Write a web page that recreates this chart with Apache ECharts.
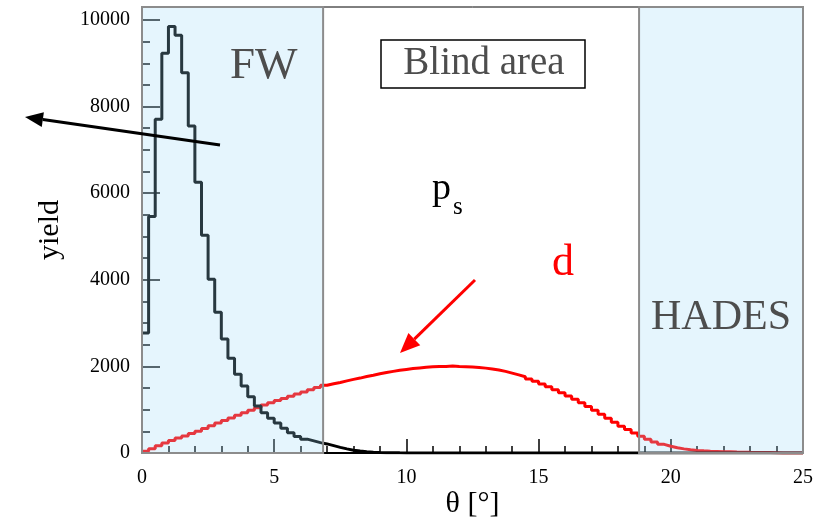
<!DOCTYPE html>
<html>
<head>
<meta charset="utf-8">
<script src="https://cdn.jsdelivr.net/npm/echarts@6/dist/echarts.min.js"></script>
<style>
  html, body { margin: 0; padding: 0; background: #fff; }
  #chart { width: 814px; height: 520px; }
</style>
</head>
<body>
<div id="chart"></div>
<script>
// theta histograms, 0.25 deg bins from 0 to 25
const binWidth = 0.25
const xTicks = [0, 5, 10, 15, 20, 25]
const yTicks = [0, 2000, 4000, 6000, 8000, 10000]

// spectator protons (black)
const psYield = [
  2770, 5460, 7710, 9230, 9850, 9650, 8780, 7550, 6250, 5030,
  4010, 3250, 2630, 2190, 1820, 1550, 1300, 1085, 930, 800,
  690, 570, 470, 380, 320, 280, 240, 210, 170, 130,
  95, 65, 45, 30, 20, 12, 8, 5, 3, 2,
  0, 0, 0, 0, 0, 0, 0, 0, 0, 0,
  0, 0, 0, 0, 0, 0, 0, 0, 0, 0,
  0, 0, 0, 0, 0, 0, 0, 0, 0, 0,
  0, 0, 0, 0, 0, 0, 0, 0, 0, 0,
  0, 0, 0, 0, 0, 0, 0, 0, 0, 0,
  0, 0, 0, 0, 0, 0, 0, 0, 0, 0
]

// deuterons (red)
const dYield = [
  40, 100, 165, 230, 290, 345, 395, 450, 505, 565,
  630, 690, 750, 810, 870, 930, 985, 1045, 1110, 1160,
  1210, 1260, 1310, 1360, 1410, 1460, 1515, 1565, 1600, 1630,
  1665, 1700, 1730, 1765, 1795, 1830, 1860, 1885, 1910, 1930,
  1950, 1965, 1980, 1990, 1995, 2000, 2010, 1995, 1990, 1985,
  1975, 1960, 1940, 1915, 1885, 1845, 1805, 1760, 1710, 1655,
  1595, 1530, 1460, 1390, 1315, 1240, 1160, 1075, 985, 895,
  800, 710, 620, 540, 460, 385, 315, 255, 200, 155,
  120, 95, 75, 60, 50, 42, 36, 30, 26, 22,
  19, 16, 14, 12, 10, 8, 0, 0, 0, 0
]

// detector acceptance in theta (deg)
const regions = [
  { name: 'FW', from: 0, to: 6.85 },
  { name: 'HADES', from: 18.8, to: 25 }
]

const yMax = 10300
const serif = '"Liberation Serif", "DejaVu Serif", serif'

const toSteps = vals => {
  const pts = vals.map((v, i) => [i * binWidth, v])
  pts.push([vals.length * binWidth, vals[vals.length - 1]])
  return pts
}

const chart = echarts.init(document.getElementById('chart'), null, { renderer: 'canvas' })

const arrow = (x1, y1, x2, y2, color, w, headLen, headW) => {
  const a = Math.atan2(y2 - y1, x2 - x1)
  const bx = x2 - headLen * Math.cos(a)
  const by = y2 - headLen * Math.sin(a)
  const nx = -Math.sin(a) * headW / 2
  const ny = Math.cos(a) * headW / 2
  return [
    { type: 'line', z: 100, shape: { x1, y1, x2: bx, y2: by }, style: { stroke: color, lineWidth: w } },
    { type: 'polygon', z: 100, shape: { points: [[x2, y2], [bx + nx, by + ny], [bx - nx, by - ny]] }, style: { fill: color } }
  ]
}

const option = {
  backgroundColor: '#fff',
  animation: false,
  grid: { left: 142, right: 11, top: 7, bottom: 67, show: true, borderColor: '#000', borderWidth: 1, outerBoundsMode: 'none' },
  xAxis: {
    type: 'value',
    min: 0,
    max: 25,
    interval: 5,
    name: 'θ [°]',
    nameLocation: 'middle',
    nameGap: 36,
    nameMoveOverlap: false,
    nameTextStyle: { fontFamily: serif, fontSize: 30, color: '#000' },
    axisLine: { show: true, onZero: false, lineStyle: { color: '#000', width: 2 } },
    axisTick: { inside: true, length: 14, lineStyle: { color: '#000', width: 1.5 } },
    minorTick: { show: true, splitNumber: 5, length: 7, lineStyle: { color: '#000', width: 1.5 } },
    axisLabel: { fontFamily: serif, fontSize: 20, color: '#000', margin: 15, formatter: v => String(v) },
    splitLine: { show: false }
  },
  yAxis: [
    {
      type: 'value',
      min: 0,
      max: yMax,
      interval: 2000,
      name: 'yield',
      nameLocation: 'middle',
      nameRotate: 90,
      nameGap: 77,
      nameMoveOverlap: false,
      nameTextStyle: { fontFamily: serif, fontSize: 30, color: '#000' },
      axisLine: { show: true, lineStyle: { color: '#000', width: 2 } },
      axisTick: { inside: true, length: 18, lineStyle: { color: '#000', width: 1.5 } },
      axisLabel: { fontFamily: serif, fontSize: 20, color: '#000', margin: 12, showMaxLabel: false,
        formatter: v => yTicks.includes(v) ? String(v) : '' },
      splitLine: { show: false }
    },
    {
      type: 'value',
      min: 0,
      max: yMax,
      interval: 500,
      position: 'left',
      axisLine: { show: false },
      axisTick: { inside: true, length: 8, lineStyle: { color: '#000', width: 1.5 } },
      axisLabel: { show: false },
      splitLine: { show: false }
    }
  ],
  series: [
    {
      name: 'd',
      type: 'line',
      step: 'end',
      symbol: 'none',
      z: 2,
      data: toSteps(dYield),
      lineStyle: { color: '#ff0000', width: 3 }
    },
    {
      name: 'ps',
      type: 'line',
      step: 'end',
      symbol: 'none',
      z: 3,
      data: toSteps(psYield),
      lineStyle: { color: '#000', width: 3 }
    },
    {
      name: 'acceptance',
      type: 'custom',
      z: 10,
      silent: true,
      data: regions.map(r => [r.from, r.to]),
      renderItem: (params, api) => {
        const p0 = api.coord([api.value(0), yMax])
        const p1 = api.coord([api.value(1), 0])
        return {
          type: 'rect',
          shape: { x: p0[0], y: p0[1], width: p1[0] - p0[0], height: p1[1] - p0[1] },
          style: { fill: 'rgba(154,215,246,0.26)', stroke: '#8c8c8c', lineWidth: 2 }
        }
      }
    }
  ],
  graphic: [
    { type: 'text', z: 100, left: 230, top: 44, style: { text: 'FW', font: '45px ' + serif, fill: '#4d4d4d' } },
    { type: 'rect', z: 100, shape: { x: 381, y: 40, width: 204, height: 48 }, style: { fill: '#fff', stroke: '#000', lineWidth: 1.5 } },
    { type: 'text', z: 101, x: 484, y: 64, style: { text: 'Blind area', font: '39px ' + serif, fill: '#4d4d4d', align: 'center', verticalAlign: 'middle' } },
    { type: 'text', z: 100, left: 651, top: 297, style: { text: 'HADES', font: '42px ' + serif, fill: '#4d4d4d' } },
    { type: 'text', z: 100, left: 432, top: 170, style: { text: 'p', font: '38px ' + serif, fill: '#000' } },
    { type: 'text', z: 100, left: 453, top: 195, style: { text: 's', font: '25px ' + serif, fill: '#000' } },
    { type: 'text', z: 100, left: 552, top: 241, style: { text: 'd', font: '44px ' + serif, fill: '#ff0000' } },
    ...arrow(220, 145, 25, 117, '#000', 3, 18, 15),
    ...arrow(475, 280, 400, 353, '#ff0000', 3, 20, 17)
  ]
}

chart.setOption(option)
</script>
</body>
</html>
